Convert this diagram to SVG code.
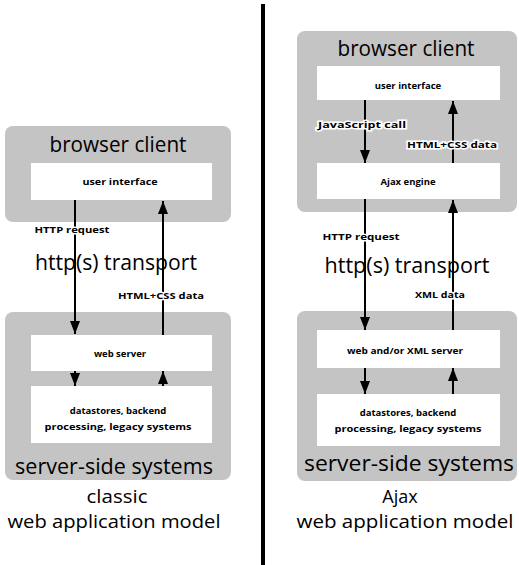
<svg xmlns="http://www.w3.org/2000/svg" width="519" height="565" viewBox="0 0 519 565">
<style>
.panel{fill:#c4c4c4}
.box{fill:#ffffff}
.big{font-family:"Open Sans","DejaVu Sans",sans-serif;font-size:21px;fill:#000;text-anchor:middle}
.sm{font-family:"Open Sans","DejaVu Sans",sans-serif;font-size:9.5px;font-weight:bold;fill:#000;text-anchor:middle}
.lbl{font-family:"Open Sans","DejaVu Sans",sans-serif;font-size:9.5px;font-weight:bold;fill:#000;text-anchor:middle;stroke:#fff;stroke-width:3px;paint-order:stroke}
.cap{font-family:"Open Sans","DejaVu Sans",sans-serif;font-size:18px;font-weight:500;fill:#000;text-anchor:middle}
.ln{stroke:#000;stroke-width:2;fill:none;marker-end:url(#ah)}
</style>
<defs>
<marker id="ah" markerUnits="userSpaceOnUse" markerWidth="13" markerHeight="10" refX="13" refY="5" orient="auto">
<path d="M0,0 L13,5 L0,10 z" fill="#000"/>
</marker>
</defs>
<rect width="519" height="565" fill="#fff"/>

<g id="left-browser">
<rect class="panel" x="5" y="126" width="226" height="96" rx="8"/>
<text class="big" x="118" y="152" textLength="137" lengthAdjust="spacingAndGlyphs">browser client</text>
</g>
<g id="left-ui">
<rect class="box" x="31" y="163" width="181" height="37"/>
<text class="sm" x="120" y="185" textLength="75" lengthAdjust="spacingAndGlyphs">user interface</text>
</g>
<g id="left-server">
<rect class="panel" x="5" y="312" width="226" height="168" rx="8"/>
<text class="big" x="114" y="474" textLength="198" lengthAdjust="spacingAndGlyphs">server-side systems</text>
</g>
<g id="left-web">
<rect class="box" x="31" y="335" width="181" height="36"/>
<text class="sm" x="120" y="357">web server</text>
</g>
<g id="left-data">
<rect class="box" x="31" y="386" width="181" height="57"/>
<text class="sm" x="118" y="414">datastores, backend</text>
<text class="sm" x="118" y="430" textLength="147" lengthAdjust="spacingAndGlyphs">processing, legacy systems</text>
</g>
<g id="left-caption">
<text class="cap" x="117" y="503" textLength="61" lengthAdjust="spacingAndGlyphs">classic</text>
<text class="cap" x="114" y="528" textLength="213" lengthAdjust="spacingAndGlyphs">web application model</text>
</g>

<g id="right-browser">
<rect class="panel" x="297" y="31" width="220" height="181" rx="8"/>
<text class="big" x="406" y="56" textLength="137" lengthAdjust="spacingAndGlyphs">browser client</text>
</g>
<g id="right-ui">
<rect class="box" x="317" y="66" width="183" height="34"/>
<text class="sm" x="408" y="89">user interface</text>
</g>
<g id="right-ajax">
<rect class="box" x="317" y="163" width="183" height="36"/>
<text class="sm" x="408" y="185">Ajax engine</text>
</g>
<g id="right-server">
<rect class="panel" x="297" y="311" width="220" height="170" rx="8"/>
<text class="big" x="409" y="471" textLength="210" lengthAdjust="spacingAndGlyphs">server-side systems</text>
</g>
<g id="right-web">
<rect class="box" x="317" y="330" width="183" height="38"/>
<text class="sm" x="405" y="354" textLength="116" lengthAdjust="spacingAndGlyphs">web and/or XML server</text>
</g>
<g id="right-data">
<rect class="box" x="317" y="394" width="183" height="52"/>
<text class="sm" x="408" y="416">datastores, backend</text>
<text class="sm" x="408" y="432" textLength="147" lengthAdjust="spacingAndGlyphs">processing, legacy systems</text>
</g>
<g id="right-caption">
<text class="cap" x="400" y="503">Ajax</text>
<text class="cap" x="405" y="528" textLength="217" lengthAdjust="spacingAndGlyphs">web application model</text>
</g>

<g id="transport">
<text class="big" x="116" y="270" textLength="162" lengthAdjust="spacingAndGlyphs">http(s) transport</text>
<text class="big" x="407" y="273" textLength="165" lengthAdjust="spacingAndGlyphs">http(s) transport</text>
</g>

<g id="divider">
<rect x="261" y="4" width="4" height="561" fill="#000"/>
</g>

<g id="connectors">
<line class="ln" x1="75" y1="200" x2="75" y2="334"/>
<line class="ln" x1="163" y1="335" x2="163" y2="201"/>
<line class="ln" x1="75" y1="371" x2="75" y2="386"/>
<line class="ln" x1="163" y1="386" x2="163" y2="371"/>
<line class="ln" x1="365" y1="100" x2="365" y2="163"/>
<line class="ln" x1="453" y1="163" x2="453" y2="101"/>
<line class="ln" x1="365" y1="199" x2="365" y2="330"/>
<line class="ln" x1="453" y1="330" x2="453" y2="200"/>
<line class="ln" x1="365" y1="368" x2="365" y2="394"/>
<line class="ln" x1="453" y1="394" x2="453" y2="368"/>
<text class="lbl" x="72" y="233" textLength="75" lengthAdjust="spacingAndGlyphs">HTTP request</text>
<text class="lbl" x="161" y="299" textLength="86" lengthAdjust="spacingAndGlyphs">HTML+CSS data</text>
<text class="lbl" x="362" y="128" textLength="88" lengthAdjust="spacingAndGlyphs">JavaScript call</text>
<text class="lbl" x="452" y="148" textLength="90" lengthAdjust="spacingAndGlyphs">HTML+CSS data</text>
<text class="lbl" x="361" y="240" textLength="77" lengthAdjust="spacingAndGlyphs">HTTP request</text>
<text class="lbl" x="440" y="298" textLength="50" lengthAdjust="spacingAndGlyphs">XML data</text>
</g>
</svg>
